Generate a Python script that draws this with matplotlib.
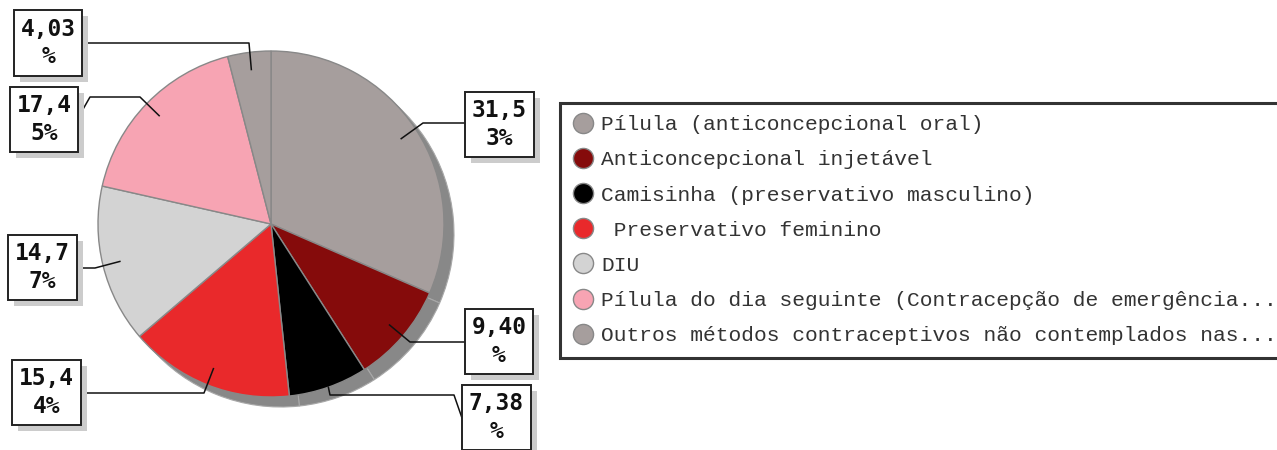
import matplotlib
matplotlib.use("Agg")
import numpy as np
import matplotlib.pyplot as plt
from matplotlib.patches import Rectangle
from matplotlib.lines import Line2D
from matplotlib.font_manager import FontProperties

# data
categories = [
    "Pílula (anticoncepcional oral)",
    "Anticoncepcional injetável",
    "Camisinha (preservativo masculino)",
    " Preservativo feminino",
    "DIU",
    "Pílula do dia seguinte (Contracepção de emergência...",
    "Outros métodos contraceptivos não contemplados nas...",
]
values = [31.53, 9.40, 7.38, 15.44, 14.77, 17.45, 4.03]
colors = ["#a69e9d", "#850b0b", "#000000", "#e9292b",
          "#d3d3d3", "#f7a4b3", "#a69e9d"]

W, H = 1277, 450
MONO = "Liberation Mono"
LABEL_FONT = "DejaVu Sans Mono"


def py(y):
    # pixel row (from top) -> axes y
    return H - y


fig = plt.figure(figsize=(W / 100, H / 100), dpi=100)
ax = fig.add_axes([0, 0, 1, 1])

cx, cy, R = 271, py(224), 173

# depth / shadow under the pie
ax.pie(values, colors=["#888888"] * len(values), startangle=90,
       counterclock=False, center=(cx + 10, cy - 10), radius=R,
       wedgeprops=dict(edgecolor="#a8a8a8", linewidth=0.8))
wedges, _ = ax.pie(values, colors=colors, startangle=90, counterclock=False,
                   center=(cx, cy), radius=R,
                   wedgeprops=dict(edgecolor="#888888", linewidth=1))

ax.set_xlim(0, W)
ax.set_ylim(0, H)
ax.axis("off")

# label boxes: left, top, width, height (pixels) and leader elbows
boxes = [(465, 92, 69, 65), (465, 309, 68, 65), (462, 385, 69, 65),
         (12, 360, 69, 65), (8, 235, 69, 65), (10, 87, 68, 65),
         (14, 10, 68, 66)]
elbows = [
    [(423, 123), (465, 123)],
    [(410, 342), (465, 342)],
    [(330, 395), (454, 395), (462, 418)],
    [(204, 393), (81, 393)],
    [(95, 268), (77, 268)],
    [(140, 97), (90, 97), (78, 118)],
    [(249, 43), (82, 43)],
]
leader_r = [0.9, 0.9, 1.0, 0.9, 0.9, 0.9, 0.9]

for w, v, box, elb, lr in zip(wedges, values, boxes, elbows, leader_r):
    mid = np.deg2rad((w.theta1 + w.theta2) / 2)
    x0 = cx + lr * R * np.cos(mid)
    y0 = cy + lr * R * np.sin(mid)
    xs = [x0] + [p[0] for p in elb]
    ys = [y0] + [py(p[1]) for p in elb]
    ax.plot(xs, ys, color="#111111", lw=1.1, zorder=5)

    bx, by, bw, bh = box
    ax.add_patch(Rectangle((bx + 6, py(by + bh) - 6), bw, bh,
                           facecolor="#cccccc", edgecolor="none", zorder=6))
    ax.add_patch(Rectangle((bx, py(by + bh)), bw, bh, facecolor="white",
                           edgecolor="#222222", lw=1.4, zorder=7))
    txt = f"{v:.2f}".replace(".", ",") + "%"
    ax.text(bx + bw / 2, py(by + bh / 2), txt[:4] + "\n" + txt[4:],
            ha="center", va="center", family=LABEL_FONT, weight="bold",
            fontsize=16.5, linespacing=1.25, color="#111111", zorder=8)

handles = [Line2D([], [], marker="o", ls="none", markersize=14.5,
                  markerfacecolor=c, markeredgecolor="#888888",
                  markeredgewidth=1) for c in colors]
leg = ax.legend(handles, categories, loc="upper left",
                bbox_to_anchor=(560, py(103)), bbox_transform=ax.transData,
                prop=FontProperties(family=MONO, size=15.3),
                frameon=True, fancybox=False, borderpad=0.58,
                labelspacing=0.76, handlelength=1.0, handletextpad=0.36,
                borderaxespad=0)
leg.get_frame().set_edgecolor("black")
leg.get_frame().set_linewidth(2.2)
for t in leg.get_texts():
    t.set_color("#333333")

fig.savefig("out.png", dpi=100)
